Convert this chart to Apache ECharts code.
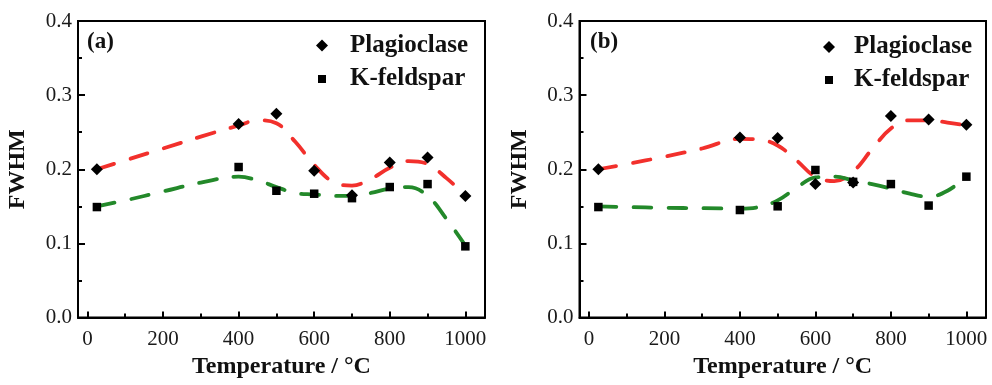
<!DOCTYPE html>
<html><head><meta charset="utf-8">
<script src="https://cdn.jsdelivr.net/npm/echarts@6/dist/echarts.min.js"></script>
<style>html,body{margin:0;padding:0;background:#fff}#c{width:992px;height:385px}</style>
</head><body><div id="c"></div>
<script>
// ---- data ----
const temps = [25, 400, 500, 600, 700, 800, 900, 1000];
const plagA = [0.200, 0.261, 0.275, 0.198, 0.165, 0.209, 0.216, 0.164];
const kfA   = [0.149, 0.203, 0.171, 0.167, 0.161, 0.176, 0.180, 0.096];
const plagB = [0.200, 0.243, 0.242, 0.180, 0.182, 0.272, 0.267, 0.260];
const kfB   = [0.149, 0.145, 0.150, 0.199, 0.183, 0.180, 0.151, 0.190];

// dashed fitted curves
const fitT     = [25, 100, 200, 300, 400, 450, 500, 550, 600, 650, 700, 750, 800, 850, 900, 950, 1000];
const plagFitA = [0.200, 0.212, 0.228, 0.244, 0.259, 0.266, 0.262, 0.237, 0.206, 0.183, 0.178, 0.187, 0.202, 0.211, 0.207, 0.188, 0.165];
const kfFitA   = [0.150, 0.158, 0.170, 0.182, 0.190, 0.185, 0.176, 0.168, 0.166, 0.164, 0.164, 0.168, 0.174, 0.176, 0.164, 0.133, 0.097];
const plagFitB = [0.200, 0.207, 0.217, 0.228, 0.241, 0.240, 0.232, 0.212, 0.190, 0.184, 0.197, 0.227, 0.255, 0.266, 0.266, 0.263, 0.259];
const kfFitB   = [0.150, 0.149, 0.148, 0.1475, 0.147, 0.149, 0.158, 0.175, 0.189, 0.190, 0.185, 0.180, 0.174, 0.167, 0.163, 0.171, 0.190];

const xMajorTicks = [0, 200, 400, 600, 800, 1000];
const xMinorTicks = [100, 300, 500, 700, 900];
const panelLabels = ['(a)', '(b)'];
const seriesNames = ['Plagioclase', 'K-feldspar'];
const xTitle = 'Temperature / °C';
const yTitle = 'FWHM';

// ---- styles ----
const SERIF = 'Liberation Serif';
const RED = '#f2302c', GREEN = '#23892a', INK = '#000';
const zip = (xs, ys) => xs.map((x, i) => [x, ys[i]]);

const grids = [
  {left: 78, top: 21, right: 507, bottom: 67.5},
  {left: 579.5, top: 21, right: 6, bottom: 67.5}
];

const xAxes = [], yAxes = [];
grids.forEach((g, i) => {
  xAxes.push({
    type: 'value', gridIndex: i, min: -25, max: 1052,
    name: xTitle, nameLocation: 'middle', nameGap: 36,
    nameTextStyle: {fontFamily: SERIF, fontWeight: 'bold', fontSize: 24, color: '#111'},
    axisLine: {show: true, onZero: false, lineStyle: {color: INK, width: 2}},
    axisTick: {show: true, inside: true, length: 6, customValues: xMajorTicks, lineStyle: {color: INK, width: 2}},
    axisLabel: {customValues: xMajorTicks, formatter: v => String(v), fontFamily: SERIF, fontSize: 21, color: '#1a1a1a', margin: 11},
    splitLine: {show: false}
  });
  xAxes.push({
    type: 'value', gridIndex: i, min: -25, max: 1052, position: 'bottom',
    axisLine: {show: false, onZero: false},
    axisTick: {show: true, inside: true, length: 4, customValues: xMinorTicks, lineStyle: {color: INK, width: 2}},
    axisLabel: {show: false},
    splitLine: {show: false}
  });
  yAxes.push({
    type: 'value', gridIndex: i, min: 0, max: 0.4, interval: 0.1,
    name: yTitle, nameLocation: 'middle', nameGap: 48,
    nameTextStyle: {fontFamily: SERIF, fontWeight: 'bold', fontSize: 24, color: '#111'},
    axisLine: {show: true, onZero: false, lineStyle: {color: INK, width: 2}},
    axisTick: {show: true, inside: true, length: 7, lineStyle: {color: INK, width: 2}},
    minorTick: {show: true, splitNumber: 2, length: 4, lineStyle: {color: INK, width: 2}},
    axisLabel: {formatter: v => v.toFixed(1), fontFamily: SERIF, fontSize: 21, color: '#1a1a1a', margin: 6},
    splitLine: {show: false}
  });
});

function fitLine(idx, data, color) {
  return {
    type: 'line', name: 'fit', xAxisIndex: idx * 2, yAxisIndex: idx, data: data,
    showSymbol: false, smooth: 0.4, silent: true, z: 2,
    lineStyle: {color: color, width: 3.8, type: [18, 17], cap: 'round'}
  };
}
function pts(idx, name, data, symbol, size) {
  return {
    type: 'scatter', name: name, xAxisIndex: idx * 2, yAxisIndex: idx, data: data,
    symbol: symbol, symbolSize: size, itemStyle: {color: INK, opacity: 1}, z: 5
  };
}

const series = [
  fitLine(0, zip(fitT, plagFitA), RED),
  fitLine(0, zip(fitT, kfFitA), GREEN),
  fitLine(1, zip(fitT, plagFitB), RED),
  fitLine(1, zip(fitT, kfFitB), GREEN),
  pts(0, seriesNames[0], zip(temps, plagA), 'diamond', 12),
  pts(0, seriesNames[1], zip(temps, kfA), 'rect', 8.5),
  pts(1, seriesNames[0], zip(temps, plagB), 'diamond', 12),
  pts(1, seriesNames[1], zip(temps, kfB), 'rect', 8.5)
];

const legTxt = (p) => ({fontFamily: SERIF, fontWeight: 'bold', fontSize: 25, color: '#111', padding: [0, 0, 0, p]});
const legend = [
  {data: [{name: seriesNames[0], icon: 'diamond'}], left: 316, top: 33, itemWidth: 12, itemHeight: 12, padding: 0, selectedMode: false, textStyle: legTxt(17)},
  {data: [{name: seriesNames[1], icon: 'rect'}], left: 318, top: 66.5, itemWidth: 8, itemHeight: 8, padding: 0, selectedMode: false, textStyle: legTxt(19)},
  {data: [{name: seriesNames[0], icon: 'diamond'}], left: 823, top: 34.5, itemWidth: 12, itemHeight: 12, padding: 0, selectedMode: false, textStyle: legTxt(14)},
  {data: [{name: seriesNames[1], icon: 'rect'}], left: 825, top: 67.5, itemWidth: 8, itemHeight: 8, padding: 0, selectedMode: false, textStyle: legTxt(16)}
];

const title = [
  {text: panelLabels[0], left: 87, top: 31, padding: 0, textStyle: {fontFamily: SERIF, fontWeight: 'bold', fontSize: 23, color: '#111'}},
  {text: panelLabels[1], left: 590, top: 31, padding: 0, textStyle: {fontFamily: SERIF, fontWeight: 'bold', fontSize: 23, color: '#111'}}
];

const chart = echarts.init(document.getElementById('c'), null, {renderer: 'canvas'});
chart.setOption({
  animation: false,
  backgroundColor: '#fff',
  title: title,
  legend: legend,
  grid: grids.map(g => Object.assign({show: true, borderColor: INK, borderWidth: 2, backgroundColor: 'transparent'}, g)),
  xAxis: xAxes,
  yAxis: yAxes,
  series: series
});
</script>
</body></html>
